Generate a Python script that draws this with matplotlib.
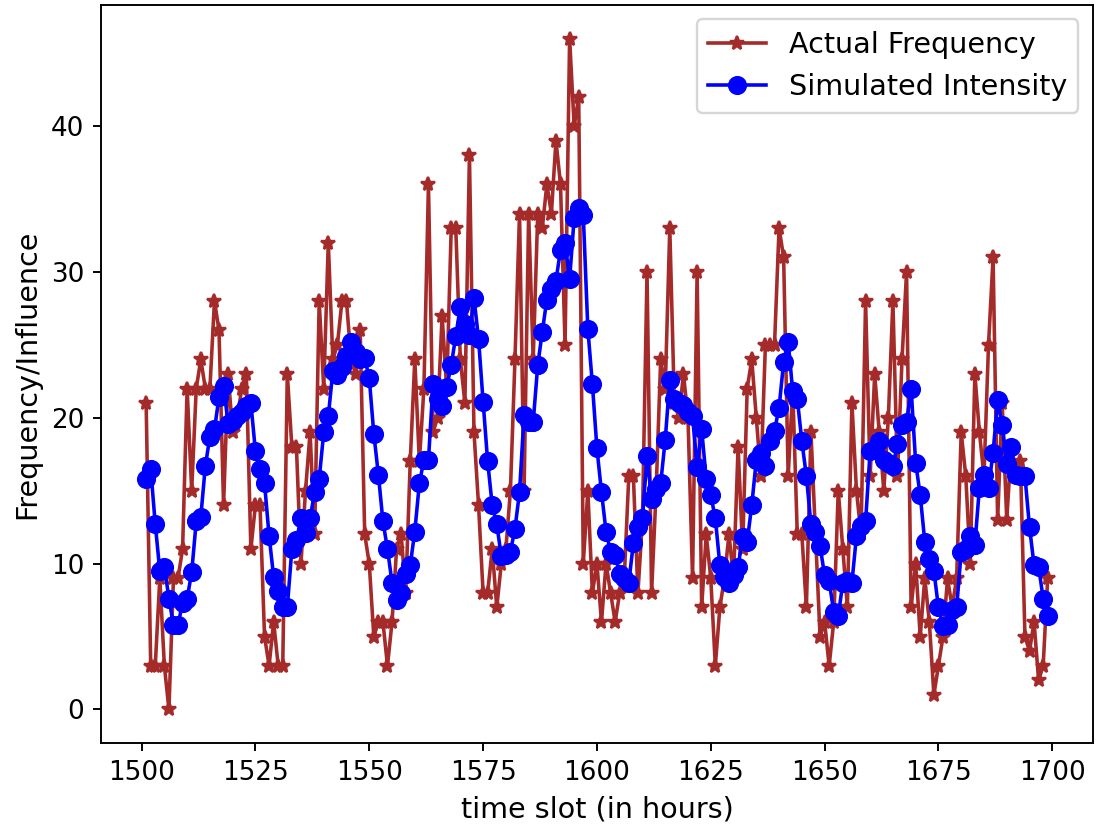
import numpy as np
import matplotlib
matplotlib.use("Agg")
import matplotlib.pyplot as plt

# time slots 1501..1699
time_slots = np.arange(1501, 1700)

actual_frequency = [
    21, 3, 3, 9, 3, 0, 9, 9, 11, 22,
    15, 22, 24, 22, 22, 28, 26, 14, 23, 19,
    20, 22, 23, 11, 14, 14, 5, 3, 6, 3,
    3, 23, 18, 18, 10, 15, 19, 12, 28, 22,
    32, 24, 25, 28, 28, 24, 23, 26, 12, 10,
    5, 6, 6, 3, 6, 11, 12, 8, 17, 24,
    17, 22, 36, 19, 20, 27, 22, 33, 33, 24,
    21, 38, 19, 14, 8, 8, 11, 7, 10, 11,
    15, 24, 34, 15, 34, 24, 34, 33, 36, 34,
    39, 36, 25, 46, 40, 42, 10, 15, 8, 10,
    6, 10, 8, 6, 8, 9, 16, 16, 8, 13,
    30, 8, 15, 24, 22, 33, 21, 20, 23, 20,
    9, 30, 7, 12, 9, 3, 7, 9, 12, 9,
    18, 11, 22, 24, 20, 16, 25, 25, 25, 33,
    31, 16, 22, 12, 12, 7, 19, 12, 5, 6,
    3, 6, 15, 11, 7, 21, 15, 12, 28, 16,
    23, 19, 15, 20, 28, 16, 24, 30, 7, 10,
    5, 9, 6, 1, 3, 5, 9, 7, 9, 19,
    16, 10, 23, 19, 16, 25, 31, 13, 21, 13,
    18, 16, 17, 5, 4, 6, 2, 3, 9,
]

simulated_intensity = [
    15.8, 16.5, 12.7, 9.5, 9.8, 7.6, 5.8, 5.8, 7.3, 7.6,
    9.4, 12.9, 13.2, 16.7, 18.7, 19.2, 21.4, 22.2, 19.6, 19.8,
    20.1, 20.4, 20.8, 21.0, 17.7, 16.5, 15.5, 11.9, 9.1, 8.1,
    7.0, 7.0, 11.0, 11.6, 13.1, 12.1, 13.1, 14.9, 15.8, 19.0,
    20.1, 23.2, 22.9, 23.5, 24.2, 25.2, 24.5, 24.0, 24.1, 22.7,
    18.9, 16.1, 12.9, 11.0, 8.7, 7.5, 8.0, 9.3, 9.9, 12.2,
    15.5, 17.1, 17.1, 22.3, 21.3, 20.8, 22.1, 23.6, 25.6, 27.6,
    26.4, 25.7, 28.2, 25.4, 21.1, 17.0, 14.0, 12.7, 10.5, 10.6,
    10.8, 12.4, 14.9, 20.2, 19.7, 19.7, 23.6, 25.9, 28.1, 28.8,
    29.4, 31.5, 32.0, 29.5, 33.7, 34.4, 33.9, 26.1, 22.3, 17.9,
    14.9, 12.2, 10.8, 10.6, 9.3, 9.0, 8.7, 11.4, 12.5, 13.1,
    17.4, 14.4, 15.1, 15.5, 18.5, 22.6, 21.3, 21.0, 20.9, 20.4,
    20.1, 16.6, 19.2, 15.8, 14.7, 13.1, 9.9, 9.1, 8.7, 9.2,
    9.8, 11.8, 11.5, 14.0, 17.1, 17.6, 16.7, 18.4, 19.1, 20.7,
    23.8, 25.2, 21.8, 21.3, 18.4, 16.0, 12.7, 12.2, 11.2, 9.2,
    8.8, 6.7, 6.4, 8.7, 8.8, 8.7, 11.9, 12.6, 12.9, 17.7,
    17.8, 18.4, 17.1, 16.9, 16.7, 18.2, 19.5, 19.7, 22.0, 16.9,
    14.7, 11.5, 10.3, 9.5, 7.0, 5.7, 5.8, 6.8, 7.0, 10.8,
    11.0, 11.9, 11.3, 15.2, 16.1, 15.2, 17.6, 21.2, 19.5, 16.8,
    18.0, 16.1, 16.0, 16.0, 12.5, 9.9, 9.8, 7.6, 6.4,
]

fig = plt.figure(figsize=(6.4, 4.82), dpi=172)
ax = fig.add_axes([101/1100, 1 - 743/829, (1092 - 101)/1100, (743 - 5)/829])

ax.plot(time_slots, actual_frequency, color="brown", marker="*", markersize=6, label="Actual Frequency")
ax.plot(time_slots, simulated_intensity, color="blue", marker="o", markersize=7, label="Simulated Intensity")

ax.tick_params(labelsize=11)
ax.set_xlabel("time slot (in hours)", fontsize=12)
ax.set_ylabel("Frequency/Influence", fontsize=12)
ax.legend(loc="upper right", fontsize=12)

fig.savefig("out.png", dpi=172)
